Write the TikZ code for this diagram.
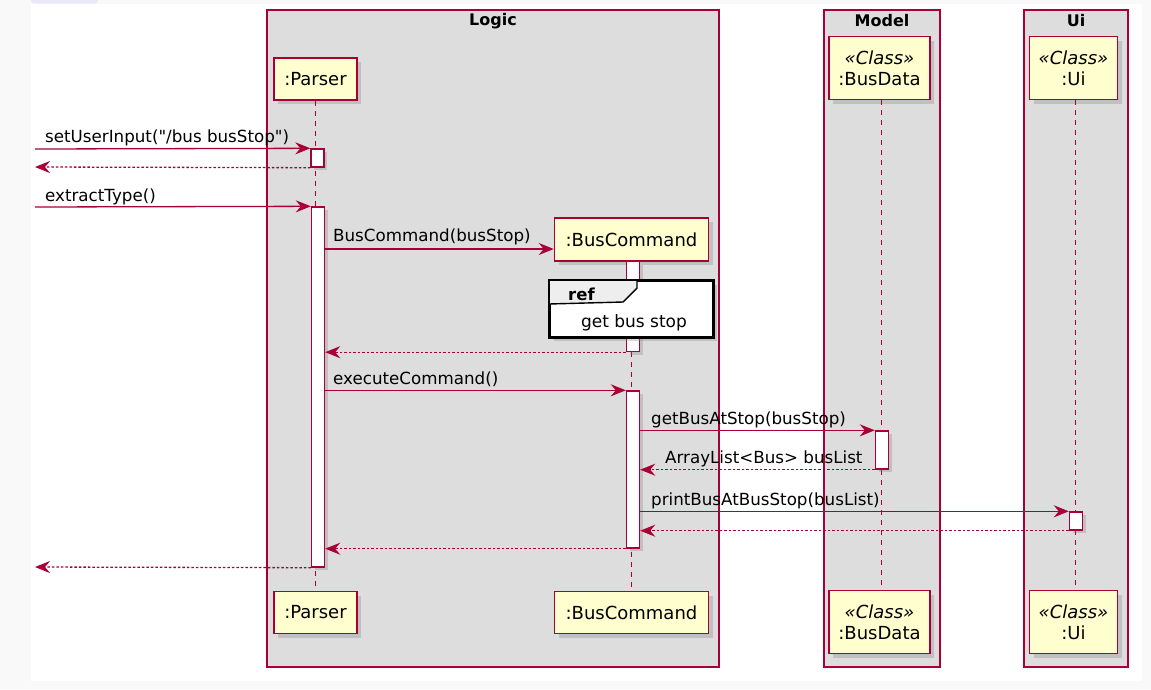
\documentclass[tikz,border=0pt]{standalone}
\usepackage{fontspec}
\setmainfont{DejaVu Sans}[Ligatures=TeXOff]
\usetikzlibrary{arrows.meta,shadows}
\definecolor{crim}{HTML}{A80036}
\definecolor{partfill}{HTML}{FEFECE}
\definecolor{grpfill}{HTML}{DDDDDD}
\definecolor{pagebg}{HTML}{F9F9F9}
\definecolor{tabbg}{HTML}{E9E9F9}
\definecolor{reftab}{HTML}{EEEEEE}
\newcommand\msgfont{\fontsize{16.7}{20}\selectfont}
\newcommand\partfont{\fontsize{18}{21}\selectfont}
\newcommand\ttlfont{\fontsize{16}{19}\selectfont\bfseries}
\begin{document}
\begin{tikzpicture}[x=1pt,y=-1pt,
  grp/.style={draw=crim, fill=grpfill, line width=1.2pt},
  grptitle/.style={font=\ttlfont, inner sep=0pt},
  part/.style={draw=crim, fill=partfill, line width=1.5pt, inner sep=0pt, align=center,
     font=\partfont, drop shadow={shadow xshift=4pt, shadow yshift=-4pt, opacity=0.3}},
  life/.style={draw=crim, line width=1.4pt, dash pattern=on 5pt off 5pt},
  actbar/.style={draw=crim, fill=white, line width=1.4pt, inner sep=0pt, minimum width=13pt,
     drop shadow={shadow xshift=3pt, shadow yshift=-3pt, opacity=0.3}},
  msg/.style={draw=crim, line width=1.3pt, -{Stealth[length=15pt,width=12pt,inset=5pt]}},
  ret/.style={msg, dash pattern=on 2.5pt off 2pt},
  lbl/.style={font=\msgfont, anchor=base west, inner sep=0pt}]

\useasboundingbox (0,0) rectangle (1151,689);
\fill[pagebg] (0,0) rectangle (1151,689);
\fill[white] (31,4) rectangle (1142,681);
\fill[tabbg, rounded corners=3pt] (31,-4) rectangle (98,3.5);

% groups
\draw[grp] (267,10) rectangle (719,667);
\draw[grp] (824,10) rectangle (940,667);
\draw[grp] (1024,10) rectangle (1128,667);
\node[grptitle] (tLogic) at (493,21) {Logic};
\node[grptitle] (tModel) at (882,21) {Model};
\node[grptitle] (tUi) at (1076,21) {Ui};

% participants
\node[part, minimum width=83pt, minimum height=42pt] (parT) at (315.5,79) {:Parser};
\node[part, minimum width=83pt, minimum height=42pt] (parB) at (315.5,612.5) {:Parser};
\node[part, minimum width=154pt, minimum height=43pt] (bcT) at (631.5,239.5) {:BusCommand};
\node[part, minimum width=154pt, minimum height=42pt] (bcB) at (631.5,612.5) {:BusCommand};
\node[part, minimum width=101pt, minimum height=63pt] (bdT) at (879.5,68) {\textit{«Class»}\\:BusData};
\node[part, minimum width=101pt, minimum height=63pt] (bdB) at (879.5,622) {\textit{«Class»}\\:BusData};
\node[part, minimum width=88pt, minimum height=63pt] (uiT) at (1073.5,68) {\textit{«Class»}\\:Ui};
\node[part, minimum width=88pt, minimum height=63pt] (uiB) at (1073.5,622) {\textit{«Class»}\\:Ui};

% lifelines
\draw[life] (parT.south) -- (parB.north);
\draw[life] (bcT.south) -- (bcB.north);
\draw[life] ([xshift=2pt]bdT.south) -- ([xshift=2pt]bdB.north);
\draw[life] ([xshift=2pt]uiT.south) -- ([xshift=2pt]uiB.north);

% activation bars
\node[actbar, minimum height=18pt] (pa1) at (317.5,158) {};
\node[actbar, minimum height=360pt] (pa2) at (318,387) {};
\node[actbar, minimum height=90pt] (ba1) at (633,306.5) {};
\node[actbar, minimum height=157pt] (ba2) at (633,469.5) {};
\node[actbar, minimum height=38pt] (bd1) at (882,450) {};
\node[actbar, minimum height=18pt] (ui1) at (1076,521) {};

% ref frame
\node[draw=black, fill=white, line width=2pt, minimum width=163pt, minimum height=56pt, inner sep=0pt,
      drop shadow={shadow xshift=4pt, shadow yshift=-4pt, opacity=0.3}] (refbox) at (631.5,309) {};
\filldraw[fill=reftab, draw=black, line width=1.4pt]
  (refbox.north west) -- ++(88,0) -- ++(0,8) -- ++(-14,14) -- (refbox.west |- 0,304) -- cycle;
\draw[black, line width=2.2pt] (refbox.north west) rectangle (refbox.south east);
\node[font=\fontsize{16.5}{19}\selectfont\bfseries, anchor=base west, inner sep=0pt] (refword) at (568,300) {ref};
\node[font=\fontsize{17}{20}\selectfont, anchor=base, inner sep=0pt] (reftext) at (634,327) {get bus stop};

% helper coordinates
\coordinate (in1) at (35,149);
\coordinate (out1) at (35,167);
\coordinate (in2) at (35,207);
\coordinate (out2) at (35,567);
\coordinate (ycreate) at (0,249);

% messages
\draw[msg] (in1) -- (pa1.north west);
\node[lbl] (l1) at (45,142) {setUserInput("/bus busStop")};
\draw[ret] (pa1.south west) -- (out1);

\draw[msg] (in2) -- (pa2.north west);
\node[lbl] (l2) at (45,201) {extractType()};

\draw[msg] (pa2.east |- ycreate) -- (bcT.west |- ycreate);
\node[lbl] (l3) at (333,241) {BusCommand(busStop)};

\draw[ret] (ba1.south west) -- (pa2.east |- ba1.south);

\draw[msg] (pa2.east |- ba2.north) -- (ba2.north west);
\node[lbl] (l4) at (333,384) {executeCommand()};

\draw[msg] (ba2.east |- bd1.north) -- (bd1.north west);
\node[lbl] (l5) at (651,424) {getBusAtStop(busStop)};

\draw[ret] (bd1.south west) -- (ba2.east |- bd1.south);
\node[lbl] (l6) at (665,463) {ArrayList<Bus> busList};

\draw[msg] (ba2.east |- ui1.north) -- (ui1.north west);
\node[lbl] (l7) at (651,505) {printBusAtBusStop(busList)};

\draw[ret] (ui1.south west) -- (ba2.east |- ui1.south);
\draw[ret] (ba2.south west) -- (pa2.east |- ba2.south);
\draw[ret] (pa2.south west) -- (out2);
\end{tikzpicture}
\end{document}
